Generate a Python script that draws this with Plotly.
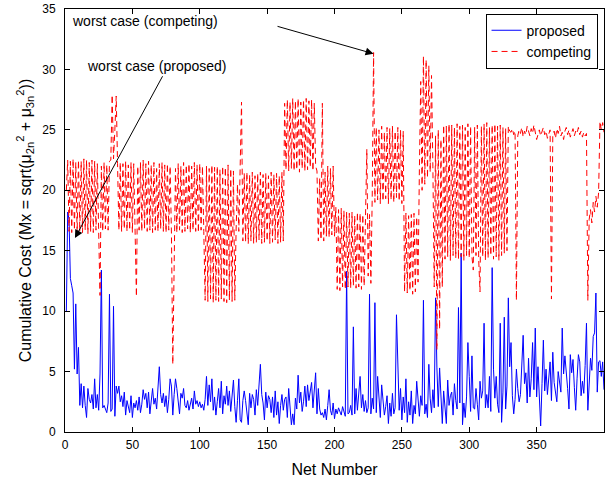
import plotly.graph_objects as go

# Per-net cumulative cost for the proposed router (nets 1..400)
proposed_cost = [
    10.0, 18.2, 17.6, 12.7, 12.1, 11.5, 5.2, 10.6, 4.8, 7.0,
    2.2, 4.0, 2.0, 3.8, 2.2, 1.2, 3.6, 2.7, 2.4, 3.1,
    1.9, 4.4, 2.0, 3.1, 1.8, 4.8, 13.4, 2.0, 2.2, 1.8,
    1.6, 2.4, 11.4, 1.7, 1.9, 10.4, 1.3, 3.8, 3.2, 3.8,
    2.5, 3.0, 2.1, 3.3, 1.4, 2.6, 2.2, 1.6, 3.0, 1.2,
    2.4, 2.0, 2.6, 1.8, 2.9, 1.6, 2.3, 3.5, 2.7, 3.2,
    2.0, 3.3, 1.5, 2.6, 3.6, 2.3, 2.8, 1.9, 4.3, 5.4,
    3.1, 2.4, 3.2, 2.1, 3.0, 1.6, 2.7, 4.4, 3.8, 1.4,
    3.1, 4.4, 3.6, 2.4, 1.5, 3.2, 2.8, 3.6, 2.2, 2.0,
    2.6, 1.8, 2.4, 2.8, 1.9, 3.4, 2.3, 2.6, 2.1, 2.5,
    2.0, 2.3, 1.8, 2.7, 4.6, 2.2, 3.9, 2.5, 4.4, 1.8,
    2.9, 1.4, 2.5, 3.6, 2.0, 4.2, 1.5, 3.0, 2.3, 3.8,
    2.2, 3.4, 1.7, 2.8, 4.3, 2.1, 0.8, 2.6, 4.4, 1.0,
    0.8, 2.6, 3.4, 2.6, 1.5, 0.6, 3.2, 2.0, 3.1, 2.7,
    1.4, 3.5, 2.2, 4.2, 5.6, 3.1, 2.4, 1.0, 3.3, 2.0,
    3.0, 2.7, 1.6, 2.9, 1.2, 3.4, 1.4, 2.5, 0.7, 2.2,
    3.1, 1.8, 2.7, 2.9, 1.2, 3.6, 2.2, 0.6, 1.5, 0.6,
    2.8, 1.9, 4.7, 2.4, 3.3, 1.7, 2.5, 3.8, 2.1, 3.9,
    2.6, 3.5, 4.1, 2.0, 3.9, 4.9, 1.5, 3.6, 1.9, 1.4,
    1.6, 1.2, 1.9, 1.0, 2.2, 3.5, 1.8, 1.4, 2.4, 1.1,
    1.9, 1.5, 2.0, 1.7, 1.4, 2.1, 1.6, 1.3, 13.3, 1.5,
    1.6, 2.2, 1.4, 8.7, 1.5, 3.6, 1.8, 2.9, 4.6, 2.0,
    3.1, 1.7, 2.6, 1.6, 2.0, 11.4, 1.5, 2.8, 1.9, 10.7,
    1.6, 4.6, 2.3, 1.2, 3.9, 2.5, 1.4, 2.1, 3.0, 0.7,
    2.4, 1.3, 3.2, 1.5, 2.0, 9.7, 5.0, 1.8, 3.6, 1.0,
    2.9, 1.6, 4.4, 0.8, 2.5, 1.4, 3.4, 0.7, 2.2, 1.5,
    4.2, 2.6, 1.3, 3.0, 2.2, 10.9, 1.5, 2.3, 1.2, 5.6,
    2.8, 1.6, 3.5, 2.0, 11.1, 5.3, 2.1, 5.3, 2.4, 0.7,
    3.4, 1.8, 0.7, 4.3, 2.2, 3.0, 3.3, 1.4, 4.0, 2.6,
    1.9, 10.3, 2.4, 14.8, 0.6, 2.4, 1.2, 2.9, 7.4, 4.6,
    1.7, 6.3, 2.0, 1.9, 3.6, 2.3, 1.0, 4.2, 2.8, 3.4,
    9.0, 2.0, 3.1, 2.0, 4.6, 1.7, 13.6, 5.2, 2.8, 4.6,
    2.3, 1.6, 9.0, 0.8, 3.3, 9.5, 1.9, 3.8, 11.1, 5.4,
    7.4, 3.0, 1.5, 2.7, 5.2, 3.6, 2.5, 3.1, 5.6, 8.0,
    4.0, 4.9, 2.4, 6.1, 2.9, 4.4, 7.4, 3.5, 8.6, 2.9,
    5.4, 3.2, 0.5, 4.0, 7.6, 3.4, 5.2, 3.1, 4.5, 5.8,
    2.6, 6.6, 4.1, 3.0, 2.5, 5.0, 4.2, 3.3, 8.6, 4.8,
    6.3, 5.2, 3.6, 1.9, 6.4, 4.9, 6.0, 3.7, 1.8, 4.4,
    6.4, 5.8, 3.0, 4.2, 3.2, 5.5, 9.0, 1.8, 3.9, 6.1,
    5.1, 7.9, 8.2, 11.5, 3.3, 5.8, 5.9, 4.6, 5.8, 3.5,
]

# Per-net cumulative cost for the competing router (nets 1..400)
competing_cost = [
    # nets 1-26
    20.0, 22.5, 16.6, 22.4, 16.5, 22.6, 16.7, 22.3, 16.5, 22.5,
    16.6, 22.4, 16.5, 22.6, 16.7, 22.5, 16.4, 22.3, 16.6, 22.5,
    16.5, 22.4, 16.7, 22.2, 16.5, 11.3,
    # nets 27-53
    22.0, 16.6, 22.3, 16.8, 22.1, 16.7, 22.4,
    22.5, 27.9, 22.6, 25.0, 27.8, 22.2,
    16.7, 22.3, 16.6, 22.2, 16.8, 22.4, 16.6, 22.1, 16.7, 22.3,
    16.5, 22.2, 16.7, 11.2,
    # nets 54-80
    22.0, 16.7, 22.3, 16.6, 22.5, 16.8, 22.2, 16.6, 22.4, 16.7,
    22.1, 16.5, 22.3, 16.7, 21.8, 16.6, 22.2, 16.8, 22.3, 16.6,
    22.1, 16.5, 22.2, 16.7, 22.0, 16.4, 5.6,
    # nets 81-103
    16.4, 21.8, 16.5, 22.2, 16.7, 22.0, 16.5, 22.3, 16.6, 22.1,
    16.8, 22.2, 16.5, 22.0, 16.7, 22.3, 16.6, 22.1, 16.5, 22.2,
    16.7, 22.0, 16.6,
    # nets 104-126
    10.9, 22.0, 10.8, 21.8, 11.0, 22.1, 10.7, 21.9, 10.9, 22.0,
    10.8, 21.7, 11.0, 22.0, 10.8, 21.9, 10.7, 22.1, 10.9, 21.8,
    10.8, 21.6, 10.9,
    # nets 127-162
    16.8, 20.5, 16.6, 21.8, 27.3,
    15.8, 21.4, 15.7, 21.5, 15.6, 21.3, 15.8, 21.5, 15.6, 21.2,
    15.7, 21.4, 15.9, 21.5, 15.6, 21.3, 15.7, 21.4, 15.8, 21.2,
    15.6, 21.5, 15.7, 21.3, 15.9, 21.4, 15.6, 21.2, 15.7, 21.5,
    15.8,
    # nets 163-186
    27.2, 21.7, 27.5, 21.6, 27.3, 21.8, 27.6, 21.6, 27.4, 21.7,
    27.6, 21.5, 27.3, 21.8, 27.5, 21.6, 27.6, 21.7, 27.4, 21.9,
    27.5, 21.6, 27.2, 22.0,
    # nets 187-200
    21.6, 15.8, 21.0, 15.9, 27.2, 15.8, 21.5, 16.2,
    22.0, 16.1, 21.8, 16.3, 22.0, 16.2,
    # nets 201-228
    18.6, 11.8, 18.4, 11.7, 18.5, 12.0, 18.3, 11.8,
    18.2, 12.0, 18.1, 11.9, 18.2, 12.1, 17.9, 11.9, 18.2, 12.0,
    18.1, 11.8, 18.0, 12.1, 18.2,
    23.4, 12.9, 18.0, 12.3, 19.5,
    # nets 229-251
    31.4,
    19.0, 25.2, 19.2, 25.0, 18.9, 25.3, 19.1, 24.8, 19.3, 25.2,
    18.9, 25.1, 19.2, 25.3, 19.0, 24.9, 19.4, 25.2, 19.1, 25.0,
    18.9, 24.9,
    # nets 252-281
    11.6, 18.1, 11.5, 17.9, 11.7, 18.0, 11.4, 18.1, 11.6, 17.8, 12.4,
    21.7, 29.0, 20.0, 31.1, 20.5, 30.8, 21.0, 30.3, 21.5, 29.5, 22.0,
    12.0, 24.5, 6.8, 25.0, 8.5, 24.2, 12.0, 25.4,
    # nets 282-330
    14.3, 25.3, 14.5, 25.5, 14.2, 25.4, 14.6, 25.2, 14.4, 25.5,
    14.3, 25.3, 14.5, 25.4, 14.2, 25.2, 14.6, 25.5, 14.4, 25.3,
    14.5, 13.4, 25.2, 14.6, 25.4, 14.3, 11.6,
    25.3, 14.5, 25.5, 14.2, 25.6, 14.4, 25.2, 14.6, 25.4, 14.3,
    25.5, 14.5, 25.3, 14.2, 25.4, 14.6, 25.2, 14.8, 25.1, 15.0,
    25.3, 24.9,
    # nets 331-361
    24.8, 25.1, 24.6, 24.9, 10.9,
    24.5, 25.0, 24.7, 25.2, 24.4, 24.9, 24.6, 25.3, 24.8, 24.5,
    25.1, 24.7, 25.4, 24.9, 24.2, 24.6, 25.0, 24.5, 24.8, 25.2,
    24.6, 24.9, 24.3, 24.7, 25.0, 11.0,
    # nets 362-400
    24.6, 24.9, 24.3, 25.1, 24.7, 25.3, 24.5, 24.8, 24.2, 24.9,
    25.2, 24.6, 25.0, 24.4, 24.8, 25.1, 24.5, 24.9, 24.7, 25.2,
    24.6, 24.9, 24.4, 24.8, 24.5, 24.7, 10.9,
    17.6, 18.4, 17.3, 19.0, 18.2, 19.5, 18.6, 19.8,
    25.7, 25.0, 25.6, 24.8,
]

net_numbers = list(range(1, len(proposed_cost) + 1))
assert len(proposed_cost) == 400 and len(competing_cost) == 400

x_ticks = [0, 50, 100, 150, 200, 250, 300, 350, 400]
y_ticks = [0, 5, 10, 15, 20, 25, 30, 35]

FONT = "Liberation Sans, Arial, Helvetica, sans-serif"

fig = go.Figure()
fig.add_trace(go.Scatter(
    x=net_numbers, y=proposed_cost, mode="lines", name="proposed",
    line=dict(color="rgb(0,0,255)", width=1),
))
fig.add_trace(go.Scatter(
    x=net_numbers, y=competing_cost, mode="lines", name="competing",
    line=dict(color="rgb(255,0,0)", width=1, dash="6px,4px"),
))

axis_common = dict(
    showline=True, linecolor="black", linewidth=1, mirror="ticks",
    ticks="inside", ticklen=5, tickcolor="black", tickwidth=1,
    showgrid=False, zeroline=False, automargin=False,
    tickfont=dict(family=FONT, size=12, color="black"),
)

fig.update_xaxes(
    range=[0, 400], tickvals=x_ticks,
    title=dict(text="Net Number", font=dict(family=FONT, size=16, color="black"),
               standoff=12),
    ticklabelstandoff=2,
    **axis_common,
)
fig.update_yaxes(
    range=[0, 35], tickvals=y_ticks,
    title=dict(
        text="Cumulative Cost (Mx = sqrt(\u03bc<sub>2n</sub><sup>2</sup> + \u03bc<sub>3n</sub><sup>2</sup>))",
        font=dict(family=FONT, size=16, color="black"), standoff=6),
    ticklabelstandoff=6,
    **axis_common,
)

arrow_style = dict(showarrow=True, arrowhead=2, arrowsize=1.6, arrowwidth=1,
                   arrowcolor="black", axref="x", ayref="y", xref="x", yref="y",
                   text="", standoff=0)
fig.add_annotation(x=229, y=31.3, ax=156.6, ay=33.6, **arrow_style)
fig.add_annotation(x=7.4, y=16.05, ax=73, ay=29.56, **arrow_style)

text_style = dict(showarrow=False, xref="x", yref="y", xanchor="left", yanchor="middle",
                  font=dict(family=FONT, size=14, color="black"))
fig.add_annotation(x=3.7, y=34.0, text="worst case (competing)", **text_style)
fig.add_annotation(x=14.8, y=30.25, text="worst case (proposed)", **text_style)

fig.update_layout(
    width=613, height=478,
    margin=dict(l=65, r=9, t=9, b=46),
    paper_bgcolor="white", plot_bgcolor="white",
    font=dict(family=FONT, size=12, color="black"),
    showlegend=True,
    legend=dict(
        x=0.988, y=0.989, xanchor="right", yanchor="top",
        bgcolor="white", bordercolor="black", borderwidth=1,
        font=dict(family=FONT, size=14, color="black"),
        itemwidth=30, tracegroupgap=0,
    ),
)

fig.write_html("out.html")
